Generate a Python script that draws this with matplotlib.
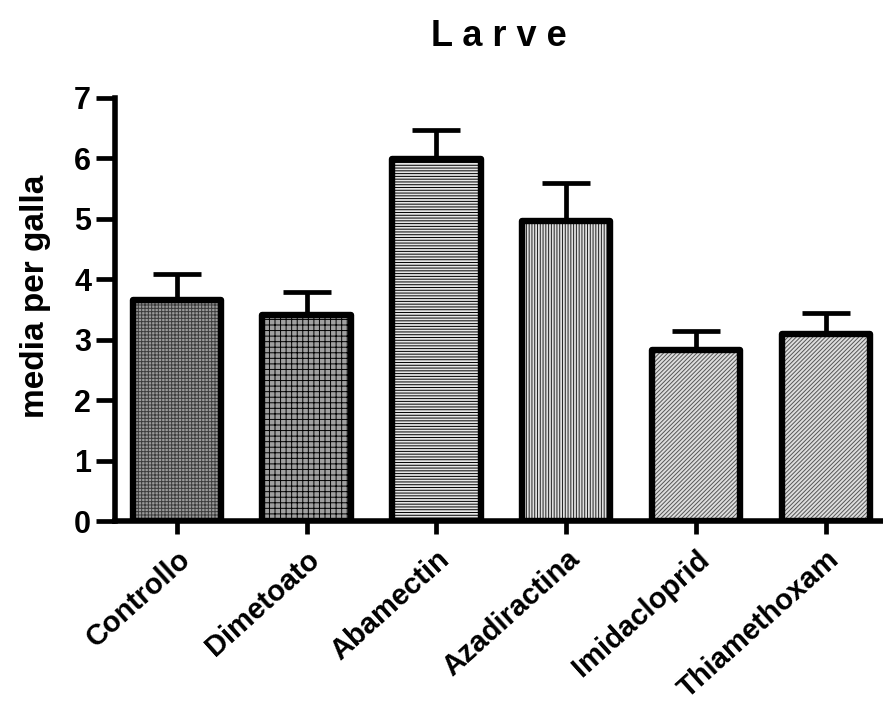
import matplotlib
matplotlib.use('Agg')
import matplotlib.pyplot as plt

plt.rcParams['font.family'] = ['Liberation Sans', 'DejaVu Sans']
plt.rcParams['font.weight'] = 'bold'
plt.rcParams['hatch.linewidth'] = 0.7

trattamenti = ['Controllo', 'Dimetoato', 'Abamectin', 'Azadiractina', 'Imidacloprid', 'Thiamethoxam']
medie = [3.66, 3.41, 5.98, 4.97, 2.83, 3.10]
errori = [0.43, 0.38, 0.49, 0.62, 0.32, 0.34]

# riempimento di ogni barra: colore di fondo, colore del tratteggio, tratteggio
fondi = ['#9a9a9a', '#a0a0a0', '#e6e6e6', '#e0e0e0', '#dedede', '#dedede']
tratti = ['#3c3c3c', 'black', 'black', '#222222', '#555555', '#555555']
motivi = ['+++++', '+++', '------', '||||||', '////////', '////////']


def grafico_barre():
    fig = plt.figure(figsize=(8.83, 7.19), dpi=100)
    ax = fig.add_axes([0.130, 0.275, 0.870, 0.589])

    x = range(len(trattamenti))

    ax.errorbar(x, medie, yerr=[[0] * len(errori), errori], fmt='none',
                ecolor='black', elinewidth=3.4, capsize=17, capthick=3.4,
                zorder=1)

    # prima il riempimento tratteggiato, poi il contorno spesso sopra
    for i, (m, fc, hc, h) in enumerate(zip(medie, fondi, tratti, motivi)):
        ax.bar(i, m, width=0.68, facecolor=fc, edgecolor=hc, hatch=h,
               linewidth=0, zorder=2)
    ax.bar(x, medie, width=0.68, facecolor='none', edgecolor='black',
           linewidth=4.6, joinstyle='round', zorder=3)

    ax.set_xlim(-0.477, 5.44)
    ax.set_ylim(0, 7)
    ax.set_yticks(range(8))
    ax.set_xticks(list(x))
    ax.set_xticklabels(trattamenti, rotation=42, ha='right',
                       rotation_mode='anchor', fontsize=21, fontweight='bold')
    ax.tick_params(axis='y', labelsize=22, length=14, width=3.4, pad=3)
    ax.tick_params(axis='x', length=9, width=3.4, pad=8)

    for lato in ['top', 'right']:
        ax.spines[lato].set_visible(False)
    for lato in ['left', 'bottom']:
        ax.spines[lato].set_linewidth(4.0)

    ax.set_ylabel('media per galla', fontsize=24, fontweight='bold')
    ax.yaxis.set_label_coords(-0.083, 0.532)
    ax.set_title('L a r v e', fontsize=26, fontweight='bold', pad=37)

    fig.savefig('out.png', dpi=100)


def main():
    grafico_barre()


if __name__ == "__main__":
    main()
